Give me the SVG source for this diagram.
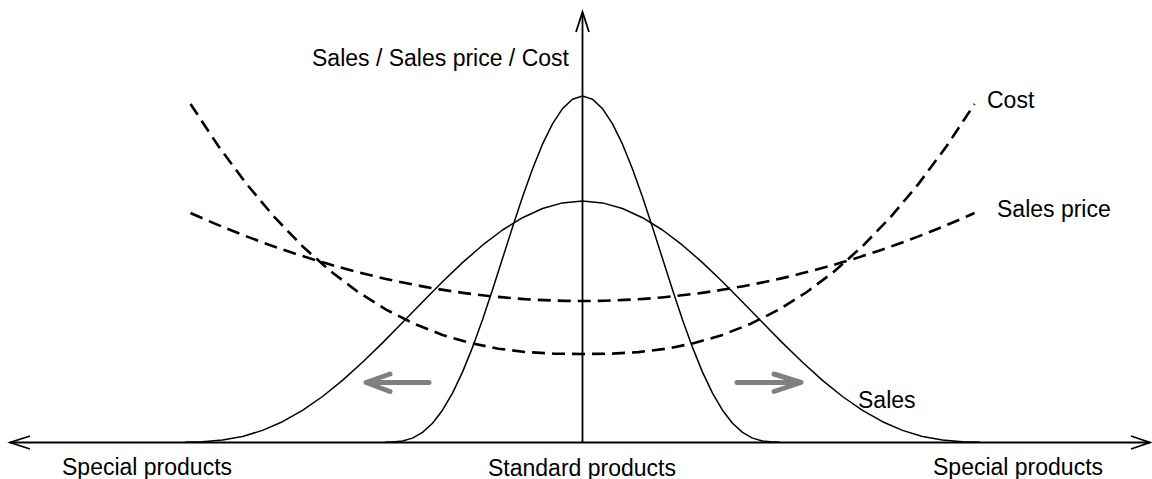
<svg xmlns="http://www.w3.org/2000/svg" width="1152" height="479" viewBox="0 0 1152 479">
<style>
.txt{font-family:"Liberation Sans",Arial,sans-serif;font-size:23px;fill:#000}
.axis{fill:none;stroke:#000;stroke-width:1.8}
.solid{fill:none;stroke:#000;stroke-width:1.5;stroke-linejoin:round}
.dash{fill:none;stroke:#000;stroke-width:2.6;stroke-dasharray:13 7}
.gray{fill:none;stroke:#808080;stroke-width:5;stroke-linecap:round;stroke-linejoin:round}
</style>
<rect width="1152" height="479" fill="#fff"/>
<g id="axes">
<line class="axis" x1="10" y1="442.5" x2="1150" y2="442.5"/>
<polyline class="axis" points="30,436 10,442.5 30,449"/>
<polyline class="axis" points="1131,436 1150,442.5 1131,449"/>
<line class="axis" x1="582.5" y1="442.5" x2="582.5" y2="12"/>
<polyline class="axis" points="576,32 582.5,12 589,32"/>
</g>
<g id="sales-narrow">
<polyline class="solid" points="385.5,442 392.5,441.9 402.5,441 412.5,438.1 422.5,432.4 432.5,423.2 442.5,410.2 452.5,393.1 462.5,372.1 472.5,347.4 482.5,319.7 492.5,289.8 502.5,258.6 512.5,227.3 522.5,197.1 532.5,169 542.5,144.2 552.5,123.8 562.5,108.6 572.5,99.2 582.5,96 592.5,99.2 602.5,108.6 612.5,123.8 622.5,144.2 632.5,169 642.5,197.1 652.5,227.3 662.5,258.6 672.5,289.8 682.5,319.7 692.5,347.4 702.5,372.1 712.5,393.1 722.5,410.2 732.5,423.2 742.5,432.4 752.5,438.1 762.5,441 772.5,441.9 779.5,442"/>
</g>
<g id="sales-wide">
<polyline class="solid" points="185.5,442 202.5,441.7 222.5,440.1 242.5,436.5 262.5,430.4 282.5,421.7 302.5,410.4 322.5,396.5 342.5,380.4 362.5,362.3 382.5,342.9 402.5,322.5 422.5,302 442.5,281.8 462.5,262.6 482.5,245.2 502.5,230 522.5,217.7 542.5,208.5 562.5,202.9 582.5,201 602.5,202.9 622.5,208.5 642.5,217.7 662.5,230 682.5,245.2 702.5,262.6 722.5,281.8 742.5,302 762.5,322.5 782.5,342.9 802.5,362.3 822.5,380.4 842.5,396.5 862.5,410.4 882.5,421.7 902.5,430.4 922.5,436.5 942.5,440.1 962.5,441.7 979.5,442"/>
</g>
<g id="cost">
<polyline class="dash" points="190.5,104 218.5,146.3 246.5,183.9 274.5,217.2 302.5,246.2 330.5,271.2 358.5,292.3 386.5,309.8 414.5,323.9 442.5,334.9 470.5,343.1 498.5,348.7 526.5,352.1 554.5,353.7 582.5,354 610.5,353.7 638.5,352.1 666.5,348.7 694.5,343.1 722.5,334.9 750.5,323.9 778.5,309.8 806.5,292.3 834.5,271.2 862.5,246.2 890.5,217.2 918.5,183.9 946.5,146.3 974.5,104"/>
</g>
<g id="sales-price">
<path class="dash" d="M190.5,213 Q582.5,389 974.5,213"/>
</g>
<g id="connectors">
<line class="gray" x1="429" y1="382.5" x2="367" y2="382.5"/>
<polyline class="gray" points="390,374 366,382.5 390,391.5"/>
<line class="gray" x1="737" y1="382.5" x2="800" y2="382.5"/>
<polyline class="gray" points="774,374 801,382.5 774,391.5"/>
</g>
<g id="labels">
<text class="txt" x="312" y="66">Sales / Sales price / Cost</text>
<text class="txt" x="987" y="108">Cost</text>
<text class="txt" x="997" y="217">Sales price</text>
<text class="txt" x="858" y="408">Sales</text>
<text class="txt" x="62" y="475">Special products</text>
<text class="txt" x="488" y="476">Standard products</text>
<text class="txt" x="933" y="475">Special products</text>
</g>
</svg>
